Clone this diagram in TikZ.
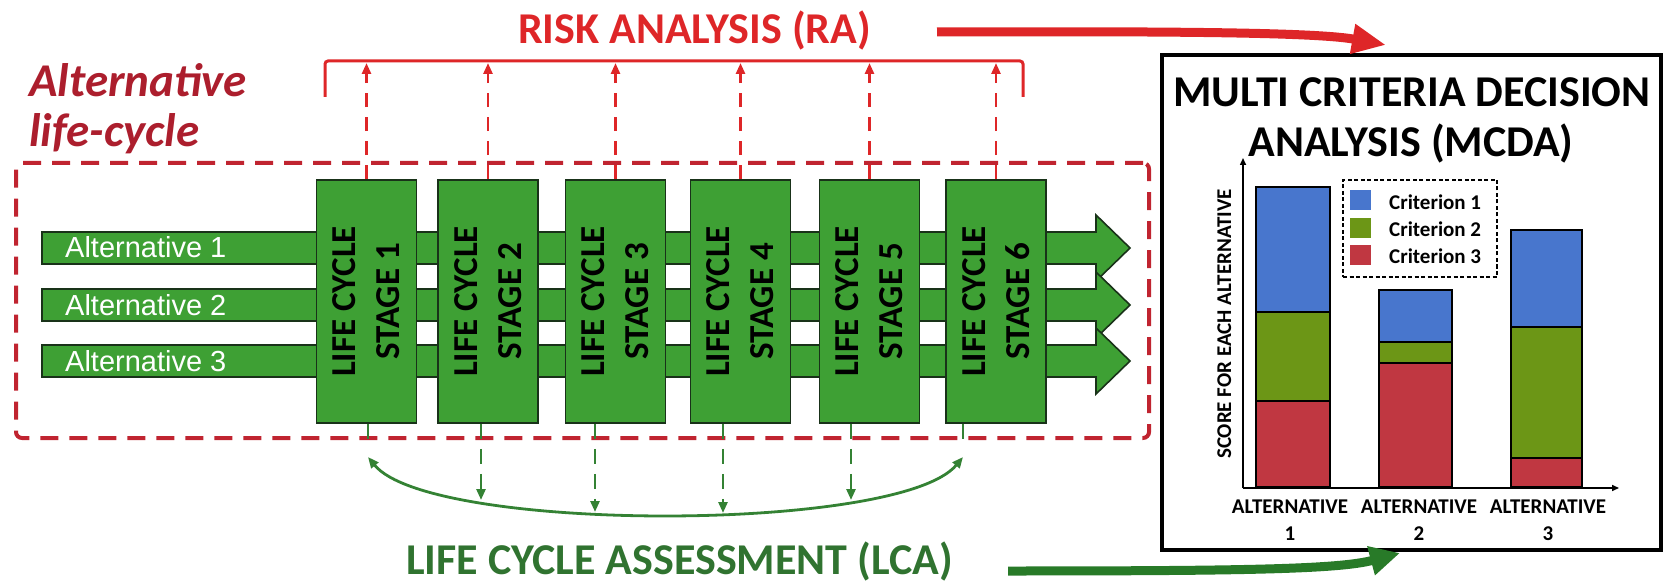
\documentclass[tikz,border=0pt]{standalone}
\usepackage{fontspec}
\setmainfont{Carlito}
\newfontfamily\arialf{Liberation Sans}
\usetikzlibrary{arrows.meta,calc}
\definecolor{stagegreen}{RGB}{62,160,52}
\definecolor{darkoutline}{RGB}{25,50,25}
\definecolor{rared}{RGB}{222,38,40}
\definecolor{boxred}{RGB}{192,36,48}
\definecolor{altred}{RGB}{172,30,45}
\definecolor{lcagreen}{RGB}{48,115,48}
\definecolor{curvegreen}{RGB}{52,130,52}
\definecolor{arrowgreen}{RGB}{40,122,40}
\definecolor{cblue}{RGB}{72,118,205}
\definecolor{cgreen}{RGB}{108,150,22}
\definecolor{cred}{RGB}{192,55,65}
\begin{document}
\begin{tikzpicture}[x=1pt,y=-1pt,
  stagebox/.style={draw=darkoutline, line width=1.6pt, fill=stagegreen,
    minimum width=100pt, minimum height=243pt, inner sep=0pt},
  stagetext/.style={rotate=90, align=center, inner sep=0pt,
    font=\fontsize{35}{44}\selectfont\bfseries, text=black},
  altbar/.style={fill=stagegreen, draw=darkoutline, line width=1.6pt},
  alttext/.style={anchor=base west, inner sep=0pt, text=white,
    font=\arialf\fontsize{29}{32}\selectfont},
  radash/.style={draw=rared, line width=2.6pt, dash pattern=on 14pt off 10pt,
    -{Triangle[length=11pt,width=9pt]}},
  lcadash/.style={draw=curvegreen, line width=2.6pt, dash pattern=on 15pt off 10pt},
  lcatip/.style={-{Triangle[length=11pt,width=9pt]}},
  titlefont/.style={font=\fontsize{44}{48}\selectfont\bfseries, inner sep=0pt},
  chartbar/.style={draw=black, line width=1.5pt},
  legsq/.style={minimum width=21pt, minimum height=20pt, inner sep=0pt},
  legtext/.style={anchor=base west, inner sep=0pt, font=\fontsize{21}{24}\selectfont\bfseries},
  axlab/.style={anchor=base, inner sep=0pt, font=\fontsize{21}{24}\selectfont\bfseries}
]
\useasboundingbox (0,0) rectangle (1667,585);

% ---------- dashed life-cycle box ----------
\node[draw=boxred, line width=4pt, dash pattern=on 18pt off 11pt, rounded corners=6pt,
      minimum width=1133pt, minimum height=275pt, inner sep=0pt] (lcbox) at (582.5,300.5) {};

\node[anchor=base west, inner sep=0pt, text=altred,
      font=\fontsize{47}{50}\selectfont\bfseries\itshape] (alc1) at (29,97) {Alternative};
\node[anchor=base west, inner sep=0pt, text=altred,
      font=\fontsize{47}{50}\selectfont\bfseries\itshape] (alc2) at (29,147) {life-cycle};

% ---------- alternative arrows ----------
\foreach \yy/\n in {248/1,305/2,361/3}{
  \filldraw[altbar] (42,{\yy-16}) -- (1096,{\yy-16}) -- (1096,{\yy-33}) -- (1130,\yy)
     -- (1096,{\yy+33}) -- (1096,{\yy+16}) -- (42,{\yy+16}) -- cycle;
  \node[alttext] (alt\n) at (65,{\yy+10}) {Alternative \n};
}

% ---------- stages ----------
\foreach \xx/\n in {366.5/1,488/2,615.5/3,740.5/4,869.5/5,996/6}{
  \node[stagebox] (s\n) at (\xx,301.5) {};
  \node[stagetext] (st\n) at (s\n.center) {LIFE CYCLE\\STAGE \n};
}

% ---------- risk analysis ----------
\node[titlefont, anchor=base west, text=rared] (ra) at (518,44) {RISK ANALYSIS (RA)};
\coordinate (ral) at (325,97);
\coordinate (rar) at (1023,97);
\coordinate (rabar) at (670,63);
\draw[rared, line width=3pt, rounded corners=3pt] (ral) -- (325,61) -- (1023,61) -- (rar);
\foreach \n in {1,...,6}{
  \draw[radash] (s\n.north) -- (s\n.north |- rabar);
}

% ---------- life cycle assessment ----------
\coordinate (l1) at (368,457);
\coordinate (l2) at (481,500);
\coordinate (l3) at (595,512);
\coordinate (l4) at (723,513);
\coordinate (l5) at (851,500);
\coordinate (l6) at (963,457);
\draw[curvegreen, line width=2.8pt, {Triangle[length=11pt,width=9pt]}-{Triangle[length=11pt,width=9pt]}]
  (l1) .. controls (430,533) and (900,533) .. (l6);
\draw[lcadash] (l1 |- s1.south) -- ($(l1 |- s1.south)+(0,17)$);
\draw[lcadash] (l6 |- s6.south) -- ($(l6 |- s6.south)+(0,17)$);
\foreach \n in {2,...,5}{
  \draw[lcadash, lcatip] (l\n |- s\n.south) -- (l\n);
}
\node[titlefont, anchor=base west, text=lcagreen] (lca) at (406,574) {LIFE CYCLE ASSESSMENT (LCA)};

% ---------- MCDA ----------
\node[draw=black, line width=3.5pt, minimum width=499pt, minimum height=495pt, inner sep=0pt]
  (mcda) at (1411.5,302.5) {};
\node[titlefont, anchor=base, text=black] (mt1) at (1412,107) {MULTI CRITERIA DECISION};
\node[titlefont, anchor=base, text=black] (mt2) at (1411,157) {ANALYSIS (MCDA)};

% bars
\filldraw[chartbar, fill=cblue]  (1256,187) rectangle (1330,312);
\filldraw[chartbar, fill=cgreen] (1256,312) rectangle (1330,401);
\filldraw[chartbar, fill=cred]   (1256,401) rectangle (1330,487);
\filldraw[chartbar, fill=cblue]  (1379,290) rectangle (1452,342);
\filldraw[chartbar, fill=cgreen] (1379,342) rectangle (1452,363);
\filldraw[chartbar, fill=cred]   (1379,363) rectangle (1452,487);
\filldraw[chartbar, fill=cblue]  (1511,230) rectangle (1582,327);
\filldraw[chartbar, fill=cgreen] (1511,327) rectangle (1582,458);
\filldraw[chartbar, fill=cred]   (1511,458) rectangle (1582,487);

% axes
\coordinate (orig) at (1243,488);
\coordinate (ytop) at (1243,158);
\coordinate (xend) at (1619,488);
\draw[black, line width=1.5pt, -{Triangle[length=7pt,width=6pt]}] (orig) -- (ytop);
\draw[black, line width=1.5pt, -{Triangle[length=7pt,width=6pt]}] (orig) -- (xend);
\node[rotate=90, anchor=base, inner sep=0pt, font=\fontsize{21}{24}\selectfont\bfseries]
  (ylab) at (1231,324) {SCORE FOR EACH ALTERNATIVE};
\node[axlab] (x1a) at (1290,513) {ALTERNATIVE};
\node[axlab] (x1b) at (1290,540) {1};
\node[axlab] (x2a) at (1419,513) {ALTERNATIVE};
\node[axlab] (x2b) at (1419,540) {2};
\node[axlab] (x3a) at (1548,513) {ALTERNATIVE};
\node[axlab] (x3b) at (1548,540) {3};

% legend
\node[draw=black, line width=1.3pt, dash pattern=on 4pt off 2.5pt,
      minimum width=154pt, minimum height=97pt, inner sep=0pt] (leg) at (1420,228.5) {};
\node[legsq, fill=cblue]  (q1) at (1360.5,200) {};
\node[legsq, fill=cgreen] (q2) at (1360.5,228) {};
\node[legsq, fill=cred]   (q3) at (1360.5,255) {};
\node[legtext] (c1) at (1389,210) {Criterion 1};
\node[legtext] (c2) at (1389,237) {Criterion 2};
\node[legtext] (c3) at (1389,264) {Criterion 3};

% ---------- big arrows ----------
\coordinate (rastart) at (937,32);
\coordinate (raend) at (1386,45);
\draw[rared, line width=9pt, -{Triangle[length=34pt,width=28pt]}]
  (rastart) .. controls (1200,31) and (1320,33) .. (raend);
\coordinate (lcastart) at (1008,571);
\coordinate (lcaend) at (1400,553);
\draw[arrowgreen, line width=9pt, -{Triangle[length=30pt,width=28pt]}]
  (lcastart) .. controls (1250,571) and (1340,569) .. (lcaend);
\end{tikzpicture}
\end{document}
